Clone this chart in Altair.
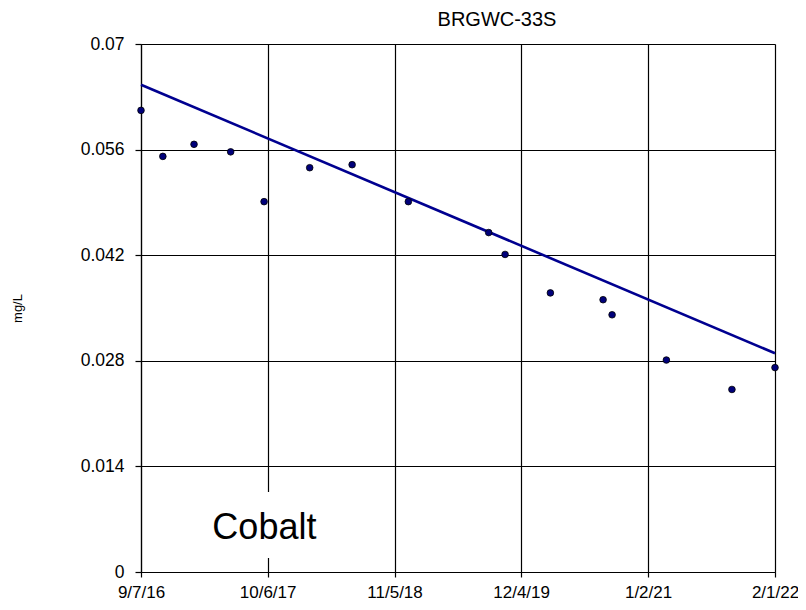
import altair as alt
import pandas as pd

# ---- data ----
sample_dates = [
    "2016-09-07", "2016-11-14", "2017-02-19", "2017-06-13", "2017-09-25",
    "2018-02-14", "2018-06-26", "2018-12-18", "2019-08-25", "2019-10-15",
    "2020-03-04", "2020-08-15", "2020-09-12", "2021-02-28", "2021-09-20",
    "2022-02-01",
]
cobalt_mg_l = [
    0.0612, 0.0551, 0.0567, 0.0557, 0.0491,
    0.0536, 0.0540, 0.0491, 0.0450, 0.0421,
    0.0370, 0.0361, 0.0341, 0.0281, 0.0242,
    0.0271,
]
trend_dates = ["2016-09-07", "2022-02-01"]
trend_values = [0.0646, 0.0290]

x_tick_dates = [(2016, 9, 7), (2017, 10, 6), (2018, 11, 5),
                (2019, 12, 4), (2021, 1, 2), (2022, 2, 1)]
y_tick_values = [0, 0.014, 0.028, 0.042, 0.056, 0.07]

chart_title = "BRGWC-33S"
y_title = "mg/L"
label_text = "Cobalt"

# annotation (label box) placement
label_at = ("2017-09-26", 0.00437)
label_box = ("2017-03-09", "2018-04-17", 0.00186, 0.0106)

FONT = "Liberation Sans"


def dt(y, m, d):
    return alt.DateTime(year=y, month=m, date=d, utc=True)


points_df = pd.DataFrame({"date": sample_dates, "value": cobalt_mg_l})
trend_df = pd.DataFrame({"date": trend_dates, "value": trend_values})
text_df = pd.DataFrame({"date": [label_at[0]], "value": [label_at[1]], "label": [label_text]})
box_df = pd.DataFrame({"date": [label_box[0]], "date_end": [label_box[1]],
                       "value": [label_box[2]], "value_end": [label_box[3]]})

x_scale = alt.Scale(type="utc", domain=[dt(*x_tick_dates[0]), dt(*x_tick_dates[-1])], nice=False)
y_scale = alt.Scale(domain=[0, 0.07], nice=False, zero=True)

x_axis = alt.Axis(
    values=[dt(*t) for t in x_tick_dates],
    labelExpr="utcFormat(datum.value, '%-m/%-d/%y')",
    grid=True, gridColor="black", gridOpacity=1, gridWidth=1.2,
    domainColor="black", domainWidth=1.2, tickColor="black", tickSize=5, tickWidth=1.2,
    labelPadding=7, labelFont=FONT, labelFontSize=17, labelColor="black",
    labelFlush=False, labelOverlap=False, title=None,
)
y_axis = alt.Axis(
    values=y_tick_values,
    labelExpr="format(datum.value, '~g')",
    grid=True, gridColor="black", gridOpacity=1, gridWidth=1.2,
    domainColor="black", domainWidth=1.2, tickColor="black", tickSize=6, tickWidth=1.2,
    labelPadding=11, labelFont=FONT, labelFontSize=17.5, labelColor="black",
    labelOverlap=False,
    title=y_title, titleFont=FONT, titleFontSize=13, titleFontWeight="normal",
    titleColor="black", titleAngle=-90, titleX=-124, titleY=264,
    titleAlign="center", titleBaseline="middle",
)

X = alt.X("date:T", scale=x_scale, axis=x_axis)
Y = alt.Y("value:Q", scale=y_scale, axis=y_axis)

trend = alt.Chart(trend_df).mark_line(color="#000090", strokeWidth=2.6).encode(x=X, y=Y)
points = alt.Chart(points_df).mark_point(
    filled=True, size=44, fill="#00007a", stroke="black", strokeWidth=0.8, opacity=1
).encode(x=X, y=Y)
box = alt.Chart(box_df).mark_rect(color="white").encode(
    x=X, x2="date_end:T", y=Y, y2="value_end:Q"
)
text = alt.Chart(text_df).mark_text(
    font=FONT, fontSize=36, color="black", align="center", baseline="alphabetic"
).encode(x=X, y=Y, text="label:N")

chart = alt.layer(trend, points, box, text).properties(
    width=634, height=528,
    padding={"left": 133, "top": 36, "right": 23, "bottom": 29},
    autosize=alt.AutoSizeParams(type="none"),
    title=alt.TitleParams(
        text=chart_title, font=FONT, fontSize=20, fontWeight="normal",
        color="black", anchor="middle", dx=39, offset=5,
    ),
).configure_view(strokeWidth=0).configure(background="white")

chart.save("out.html", embed_options={"renderer": "svg", "actions": False})
